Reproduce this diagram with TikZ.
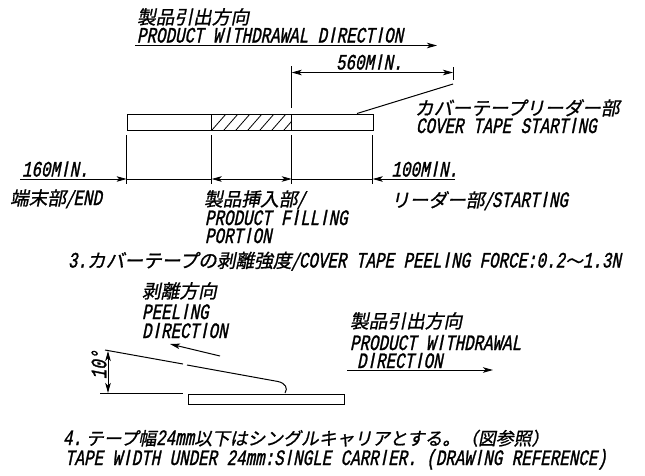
\documentclass[tikz,border=0pt]{standalone}
\usepackage{fontspec}
\usetikzlibrary{arrows.meta}
\newfontfamily\jpf[FakeSlant=0.2,FakeBold=1]{Noto Sans CJK JP}
\newfontfamily\laf[FakeSlant=0.2,FakeStretch=0.72,FakeBold=1.2]{Liberation Mono}
\newfontfamily\lasf[FakeSlant=0.2,FakeStretch=0.8,FakeBold=0.8]{Liberation Sans}
\newcommand{\jp}[1]{{\fontsize{18.7}{20}\selectfont\jpf #1}}
\newcommand{\jq}[1]{{\fontsize{17.8}{20}\selectfont\jpf #1}}
\newcommand{\la}[1]{{\fontsize{22}{20}\selectfont\laf #1}}
\newcommand{\I}{\makebox[9.5pt][c]{\lasf I}}
\tikzset{
  lbl/.style={anchor=base west,inner sep=0pt,outer sep=0pt},
  ln/.style={line width=1pt,black},
  thn/.style={line width=0.8pt,black},
  tip/.style={-{Stealth[length=10pt,width=5.5pt,inset=2.5pt]}},
  tips/.style={{Stealth[length=10pt,width=5.5pt,inset=2.5pt]}-{Stealth[length=10pt,width=5.5pt,inset=2.5pt]}},
}
\begin{document}
\begin{tikzpicture}[x=1pt,y=-1pt]
\useasboundingbox[fill=white] (0,0) rectangle (645,475);
% top texts
\node[lbl] (t1) at (137,24) {\jp{製品引出方向}};
\node[lbl] (t2) at (137,42.5) {\la{PRODUCT W\I THDRAWAL D\I RECT\I ON}};
\coordinate (a1) at (135,45.5); \coordinate (a2) at (437,45.5);
\draw[ln,tip] (a1) -- (a2);
\node[lbl] (t3) at (336,69.5) {\la{560M\I N.}};
% tape strip
\node[draw,ln,inner sep=0pt,anchor=north west,minimum height=16pt,text width=246pt] (strip) at (126.6,114) {};
\coordinate (h1t) at (211.7,114); \coordinate (h1b) at (211.7,130);
\coordinate (h2t) at (291.7,114); \coordinate (h2b) at (291.7,130);
\draw[ln] (h1t) -- (h1b) (h2t) -- (h2b);
\begin{scope}
\clip (211.7,114) rectangle (291.7,130);
\foreach \x in {212,224,...,308}
  \draw[thn] (\x,130) -- (\x+14,114);
\end{scope}
% dimension 560
\coordinate (d1) at (291.7,72.5); \coordinate (d2) at (453,72.5);
\draw[thn] (291.7,66) -- (291.7,108);
\draw[thn] (453,67) -- (453,80);
\draw[thn,tips] (d1) -- (d2);
% leader
\coordinate (l1) at (453,84); \coordinate (l2) at (357,113.5);
\draw[ln] (l1) -- (l2);
\node[lbl] (t4) at (415,115) {\jp{カバーテープリーダー部}};
\node[lbl] (t5) at (416,133) {\la{COVER TAPE START\I NG}};
% extension lines
\foreach \x in {126.6,211.7,291.7,372.7} \draw[thn] (\x,135) -- (\x,184);
% lower dims
\coordinate (e0) at (20,179); \coordinate (e1) at (126.6,179); \coordinate (e2) at (211.7,179);
\coordinate (e3) at (291.7,179); \coordinate (e4) at (372.7,179); \coordinate (e5) at (455,179);
\draw[thn,tip] (e0) -- (e1);
\draw[thn] (e1) -- (e2);
\draw[thn,tips] (e2) -- (e3);
\draw[thn] (e3) -- (e4);
\draw[thn,tip] (e5) -- (e4);
\node[lbl] (t6) at (22,176.5) {\la{160M\I N.}};
\node[lbl] (t7) at (391.5,176.5) {\la{100M\I N.}};
\node[lbl] (t8) at (10,205) {\jp{端末部/}\la{END}};
\node[lbl] (t9) at (204,206) {\jp{製品挿入部/}};
\node[lbl] (t10) at (205,225) {\la{PRODUCT F\I LL\I NG}};
\node[lbl] (t11) at (205,243) {\la{PORT\I ON}};
\node[lbl] (t12) at (391,207) {\jp{リーダー部/}\la{START\I NG}};
\node[lbl] (t13) at (68,267.5) {\la{3.}\jp{カバーテープの剥離強度/}\la{COVER TAPE PEEL\I NG FORCE:0.2}\jq{〜}\la{1.3N}};
% peeling part
\node[lbl] (p1) at (142,298) {\jp{剥離方向}};
\node[lbl] (p2) at (142,319) {\la{PEEL\I NG}};
\node[lbl] (p3) at (142,338) {\la{D\I RECT\I ON}};
\coordinate (pa1) at (220,356); \coordinate (pa2) at (170,344);
\draw[ln,tip] (pa1) -- (pa2);
\coordinate (q1) at (105,350); \coordinate (q2) at (183,364);
\coordinate (q3) at (187,365); \coordinate (q4) at (278,381.5); \coordinate (q5) at (285,393);
\draw[ln] (q1) -- (q2);
\draw[ln] (q3) -- (q4) .. controls (285,383) and (288.5,388) .. (q5);
\coordinate (b1) at (100,393); \coordinate (b2) at (183,393);
\draw[thn] (b1) -- (b2);
\node[draw,ln,inner sep=0pt,anchor=north west,minimum height=10pt,text width=156pt] (base) at (188,394) {};
\coordinate (v1) at (108,351); \coordinate (v2) at (108,393);
\draw[thn,tips] (v1) -- (v2);
\node[inner sep=0pt,rotate=90] (deg) at (99,365) {\la{10°}};
\node[lbl] (w1) at (350,328) {\jp{製品引出方向}};
\node[lbl] (w2) at (350,350) {\la{PRODUCT W\I THDRAWAL}};
\node[lbl] (w3) at (357,368) {\la{D\I RECT\I ON}};
\coordinate (w4) at (347,370); \coordinate (w5) at (493,370);
\draw[ln,tip] (w4) -- (w5);
\node[lbl] (n1) at (63,445) {\la{4.}\hspace{4pt}\jq{テープ幅}\la{24mm}\jq{以下はシングルキャリアとする。（図参照）}};
\node[lbl] (n2) at (65,465) {\la{TAPE W\I DTH UNDER 24mm:S\I NGLE CARR\I ER. (DRAW\I NG REFERENCE)}};
\end{tikzpicture}
\end{document}
